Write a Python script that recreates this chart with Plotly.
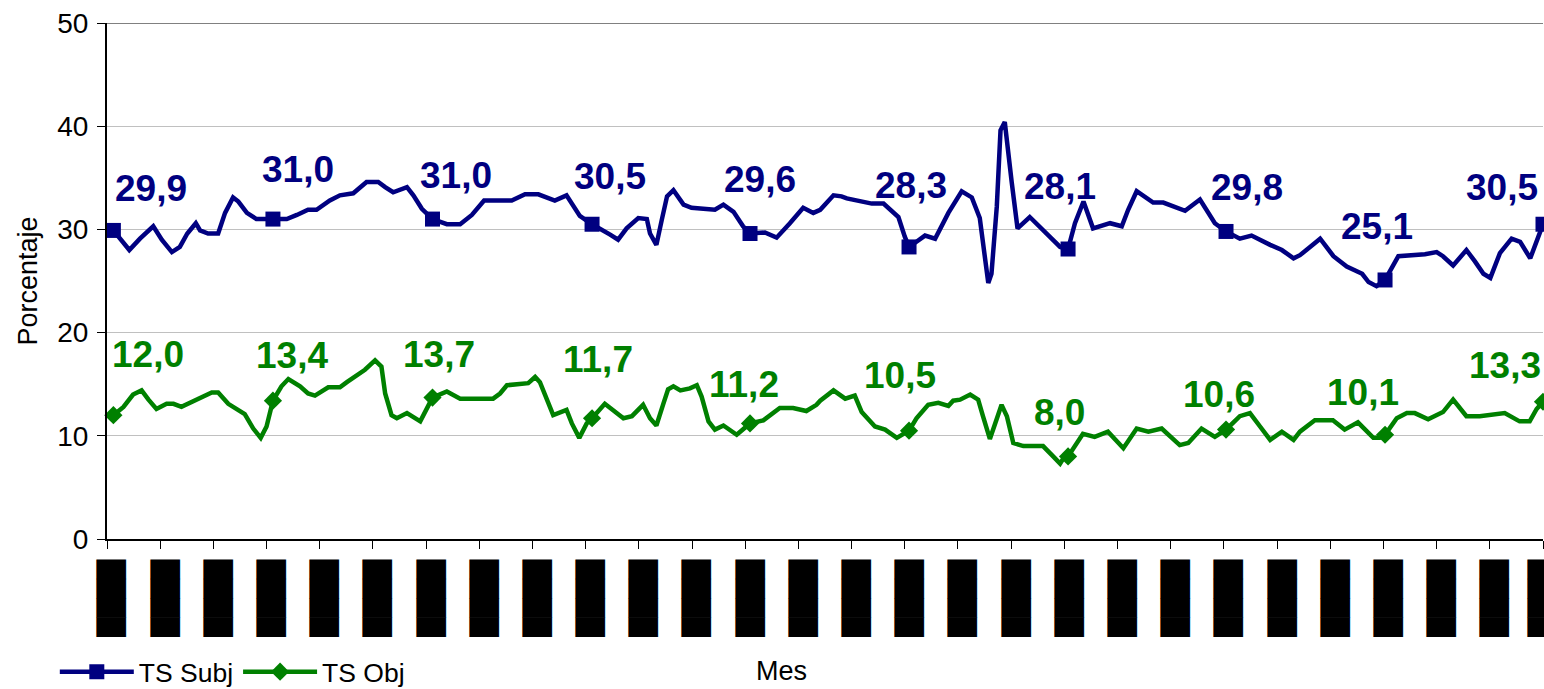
import plotly.graph_objects as go

# ---------------- data ----------------
mes_subj = [0.12, 0.42, 0.62, 0.87, 1.03, 1.22, 1.37, 1.51, 1.67, 1.75, 1.90, 2.09, 2.22, 2.37, 2.47, 2.63, 2.81,
            3.12, 3.38, 3.57, 3.78, 3.94, 4.19, 4.38, 4.63, 4.88, 5.10, 5.23, 5.38, 5.64, 5.76, 5.92,
            6.12, 6.39, 6.64, 6.86, 7.09, 7.61, 7.86, 8.11, 8.42, 8.64, 8.89,
            9.12, 9.27, 9.46, 9.61, 9.77, 9.99, 10.15, 10.21, 10.33, 10.43, 10.53, 10.65, 10.84, 10.99, 11.28,
            11.43, 11.59, 11.78, 11.96,
            12.09, 12.37, 12.59, 12.84, 13.09, 13.28, 13.41, 13.66, 13.81, 13.91, 14.38, 14.60, 14.88, 15.00,
            15.08, 15.22, 15.38, 15.57, 15.82, 16.07, 16.26, 16.41, 16.51, 16.57, 16.63, 16.73, 16.80, 16.88,
            17.01, 17.12, 17.35, 17.60, 17.92,
            18.07, 18.20, 18.36, 18.54, 18.86, 19.08, 19.20, 19.36, 19.67, 19.86, 20.27, 20.55, 20.83,
            21.04, 21.30, 21.52, 21.87, 22.09, 22.31, 22.43, 22.62, 22.81, 23.06, 23.31, 23.60, 23.72, 23.87,
            24.03, 24.28, 24.53, 24.78, 25.00, 25.12, 25.31, 25.56, 25.72, 25.88, 26.01, 26.19, 26.41, 26.57,
            26.76, 26.94, 27.00]
ts_subj = [29.9, 28.0, 29.1, 30.3, 29.0, 27.8, 28.3, 29.6, 30.6, 29.9, 29.6, 29.6, 31.6, 33.1, 32.7, 31.6, 31.0,
           31.0, 31.0, 31.4, 31.9, 31.9, 32.8, 33.3, 33.5, 34.6, 34.6, 34.1, 33.6, 34.1, 33.3, 32.0,
           31.0, 30.5, 30.5, 31.4, 32.8, 32.8, 33.4, 33.4, 32.8, 33.3, 31.3,
           30.5, 30.1, 29.5, 29.0, 30.1, 31.1, 31.0, 29.6, 28.5, 30.9, 33.2, 33.8, 32.4, 32.1, 31.9,
           31.9, 32.4, 31.7, 30.3,
           29.6, 29.7, 29.2, 30.6, 32.1, 31.6, 31.9, 33.3, 33.2, 33.0, 32.5, 32.5, 31.2, 29.3,
           28.3, 28.8, 29.4, 29.1, 31.6, 33.7, 33.1, 31.1, 27.4, 24.8, 25.7, 32.2, 39.6, 40.4,
           34.6, 30.1, 31.2, 29.9, 28.3,
           28.1, 30.6, 32.7, 30.1, 30.6, 30.3, 31.9, 33.7, 32.6, 32.6, 31.8, 32.9, 30.6,
           29.8, 29.1, 29.4, 28.5, 28.0, 27.2, 27.5, 28.3, 29.1, 27.4, 26.4, 25.7, 24.9, 24.5,
           25.1, 27.4, 27.5, 27.6, 27.8, 27.4, 26.5, 28.0, 26.9, 25.7, 25.3, 27.7, 29.1, 28.8,
           27.2, 29.5, 30.5]

mes_obj = [0.12, 0.31, 0.49, 0.65, 0.78, 0.93, 1.12, 1.25, 1.40, 1.69, 1.97, 2.09, 2.28, 2.59, 2.75, 2.89, 3.00,
           3.12, 3.28, 3.41, 3.63, 3.78, 3.91, 4.16, 4.38, 4.51, 4.85, 5.04, 5.16, 5.23, 5.35, 5.45, 5.64, 5.89,
           6.12, 6.39, 6.64, 7.26, 7.39, 7.52, 7.83, 7.92, 8.05, 8.14, 8.39, 8.64, 8.74, 8.88, 9.02,
           9.12, 9.36, 9.71, 9.87, 10.08, 10.21, 10.33, 10.46, 10.55, 10.65, 10.78, 10.96, 11.09, 11.18, 11.31,
           11.43, 11.59, 11.84,
           12.09, 12.34, 12.65, 12.90, 13.15, 13.34, 13.41, 13.66, 13.88, 14.06, 14.19, 14.44, 14.63, 14.85, 15.01,
           15.08, 15.22, 15.44, 15.63, 15.82, 15.91, 16.04, 16.23, 16.38, 16.47, 16.60, 16.70, 16.82, 16.92,
           17.04, 17.23, 17.60, 17.79, 17.92, 17.98,
           18.07, 18.35, 18.57, 18.82, 19.11, 19.36, 19.58, 19.83, 20.17, 20.33, 20.58, 20.83,
           21.04, 21.30, 21.49, 21.68, 21.87, 22.09, 22.31, 22.43, 22.71, 23.05, 23.27, 23.52, 23.81, 23.93,
           24.03, 24.25, 24.44, 24.59, 24.84, 25.12, 25.31, 25.56, 25.81, 26.28, 26.56, 26.75, 26.88, 27.00]
ts_obj = [12.0, 12.8, 14.0, 14.4, 13.5, 12.6, 13.1, 13.1, 12.8, 13.5, 14.2, 14.2, 13.1, 12.1, 10.7, 9.8, 10.9,
          13.4, 14.8, 15.5, 14.8, 14.1, 13.9, 14.7, 14.7, 15.2, 16.4, 17.3, 16.7, 14.1, 12.0, 11.7, 12.2, 11.4,
          13.7, 14.3, 13.6, 13.6, 14.1, 14.9, 15.1, 15.1, 15.7, 15.2, 12.0, 12.5, 11.2, 9.8, 11.2,
          11.7, 13.1, 11.7, 11.9, 13.0, 11.7, 11.0, 13.1, 14.5, 14.8, 14.4, 14.6, 14.9, 13.8, 11.4,
          10.6, 11.0, 10.1,
          11.2, 11.5, 12.7, 12.7, 12.4, 13.0, 13.4, 14.4, 13.6, 13.9, 12.3, 10.9, 10.6, 9.8, 10.3,
          10.5, 11.7, 13.0, 13.2, 12.9, 13.4, 13.5, 14.0, 13.5, 11.9, 9.7, 11.2, 13.0, 11.9,
          9.3, 9.0, 9.0, 8.0, 7.3, 7.8,
          8.0, 10.2, 9.9, 10.4, 8.8, 10.7, 10.4, 10.7, 9.1, 9.3, 10.7, 9.9,
          10.6, 11.9, 12.2, 10.9, 9.6, 10.4, 9.6, 10.4, 11.5, 11.5, 10.6, 11.3, 9.8, 9.8,
          10.1, 11.7, 12.2, 12.2, 11.6, 12.3, 13.5, 11.9, 11.9, 12.2, 11.4, 11.4, 12.6, 13.3]

# points that carry a marker and a value label
mes_etiquetas = [0.12, 3.12, 6.12, 9.12, 12.09, 15.08, 18.07, 21.04, 24.03, 27.00]

# x axis: one tick per month; the labels appear as solid black blocks
meses_ticks = list(range(28))
texto_ticks = ["████"] * len(meses_ticks)

# ---------------- styles ----------------
NAVY = "#000080"
GREEN = "#008000"
FONT = "Liberation Sans, Arial, sans-serif"
LABEL_DX = 0.1  # tick labels sit slightly right of their tick marks
X_MAX = 27

# label offsets in px (dx, up) - styling only
shift_subj = [(38, 42), (25, 50), (24, 44), (18, 48), (10, 54), (2, 61), (-8, 63), (21, 44), (-8, 53), (-41, 37)]
shift_obj = [(35, 61), (19, 45), (7, 43), (6, 59), (-6, 39), (-9, 55), (-9, 44), (-7, 35), (-22, 42), (-38, 36)]


def marker_sizes(xs, s):
    return [s if x in mes_etiquetas else 0 for x in xs]


fig = go.Figure()
series = (
    ("TS Subj", mes_subj, ts_subj, NAVY, "square", 15),
    ("TS Obj", mes_obj, ts_obj, GREEN, "diamond", 14),
)
for name, xs, ys, color, symbol, msize in series:
    fig.add_trace(go.Scatter(
        x=xs, y=ys, name=name, mode="lines+markers", showlegend=False,
        line=dict(color=color, width=4.5),
        marker=dict(symbol=symbol, size=marker_sizes(xs, msize), color=color, opacity=1,
                    line=dict(width=0)),
        cliponaxis=False,
    ))
# legend entries (line + marker sample)
for name, xs, ys, color, symbol, msize in series:
    fig.add_trace(go.Scatter(
        x=[None], y=[None], name=name, mode="lines+markers",
        line=dict(color=color, width=4.5),
        marker=dict(symbol=symbol, size=msize, color=color, line=dict(width=0)),
    ))

annotations = []
for (name, xs, ys, color, symbol, msize), shifts in zip(series, (shift_subj, shift_obj)):
    k = 0
    for x, y in zip(xs, ys):
        if x in mes_etiquetas:
            dx, up = shifts[k]
            k += 1
            annotations.append(dict(
                x=x, y=y, xref="x", yref="y", showarrow=False,
                text=f"<b>{y:.1f}</b>".replace(".", ","),
                font=dict(family=FONT, size=37, color=color),
                xshift=dx, yshift=up,
            ))

annotations.append(dict(
    x=0.47, y=-0.256, xref="paper", yref="paper", showarrow=False,
    xanchor="center", yanchor="middle",
    text="Mes", font=dict(family=FONT, size=27, color="black"),
))

fig.update_layout(
    template="none",
    width=1544, height=689,
    margin=dict(l=107, r=1, t=23, b=150, pad=0, autoexpand=False),
    plot_bgcolor="white", paper_bgcolor="white",
    font=dict(family=FONT, color="black"),
    showlegend=True,
    legend=dict(
        orientation="h", xref="container", yref="container",
        x=0.0355, y=0.0247, xanchor="left", yanchor="middle",
        font=dict(family=FONT, size=26.5, color="black"),
        itemwidth=74, itemsizing="trace", bgcolor="rgba(0,0,0,0)",
        traceorder="normal", borderwidth=0,
    ),
    annotations=annotations,
    shapes=[dict(type="line", xref="paper", yref="y", x0=0, x1=1, y0=50, y1=50,
                 line=dict(color="#808080", width=2))],
)

fig.update_yaxes(
    range=[0, 50], tickvals=[0, 10, 20, 30, 40, 50],
    showgrid=True, gridcolor="#c0c0c0", gridwidth=1,
    showline=True, linecolor="black", linewidth=2,
    ticks="outside", ticklen=8, tickcolor="black", tickwidth=1,
    tickfont=dict(family=FONT, size=28, color="black"), ticklabelstandoff=3,
    zeroline=False, automargin=False,
    title=dict(text="Porcentaje", font=dict(family=FONT, size=27, color="black"), standoff=12),
)
fig.update_xaxes(
    range=[0, X_MAX], tickvals=[min(m + LABEL_DX, X_MAX) for m in meses_ticks], ticktext=texto_ticks,
    tickangle=-90,
    tickfont=dict(family="DejaVu Sans", size=25, color="black"),
    ticks="", ticklabelstandoff=9, ticklabeloverflow="allow",
    minor=dict(tickvals=meses_ticks, ticks="outside", ticklen=8, tickcolor="black", tickwidth=1,
               showgrid=False),
    showgrid=False, zeroline=False, automargin=False,
    showline=True, linecolor="black", linewidth=2,
)

fig.write_html(
    "out.html",
    config={"displayModeBar": False},
    post_script="document.body.style.margin='0';document.body.style.overflow='hidden';",
)
